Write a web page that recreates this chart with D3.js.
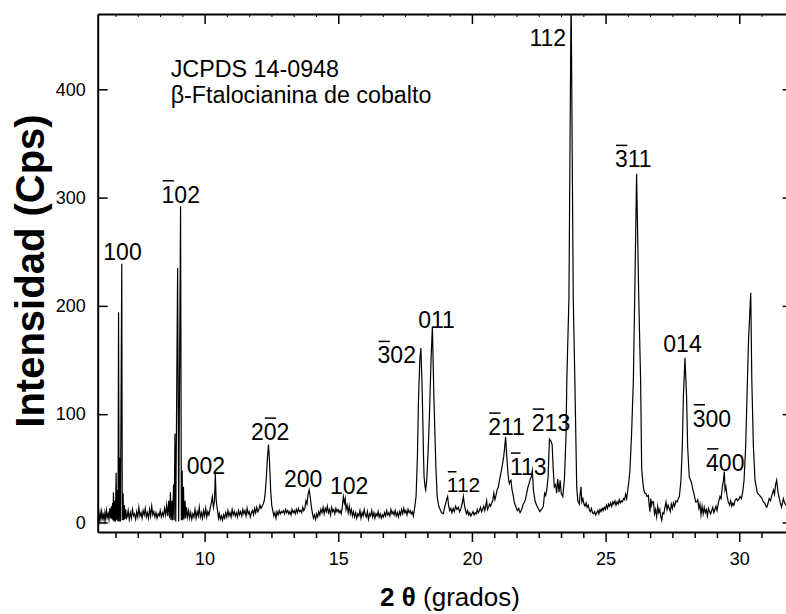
<!DOCTYPE html>
<html><head><meta charset="utf-8">
<script src="https://cdn.jsdelivr.net/npm/d3@7"></script>
<style>body{margin:0;background:#fff} text{font-family:"Liberation Sans",Arial,sans-serif;fill:#000}</style>
</head><body><svg id="c" width="786" height="614"></svg>
<script>
const xDomain = [6, 32];
const yDomain = [-8.8, 469.5];
const xTicks = [10, 15, 20, 25, 30];
const yTicks = [0, 100, 200, 300, 400];
const xTitleBold = "2 θ";
const xTitleRest = " (grados)";
const yTitle = "Intensidad (Cps)";
const noteLines = ["JCPDS 14-0948", "β-Ftalocianina de cobalto"];

// [2θ, intensity]
const pattern = [
[6.00,3],[6.03,8],[6.06,2],[6.09,9],[6.12,3],[6.15,10],[6.18,4],[6.21,7],[6.24,2],[6.27,9],[6.30,3],[6.33,11],[6.36,5],[6.39,8],[6.42,3],[6.45,13],[6.48,4],[6.51,15],[6.53,3],[6.555,18],
[6.57,2],[6.59,28],[6.61,1],[6.64,20],[6.66,1],[6.69,46],[6.71,2],[6.74,30],[6.76,1],[6.78,194],[6.80,1],[6.83,60],[6.85,1],[6.90,239],[6.92,2],[6.95,27],[6.97,2],[7.00,16],[7.02,3],[7.05,12],[7.08,4],
[7.10,5],[7.14,11],[7.18,3],[7.22,9],[7.26,4],[7.30,12],[7.34,6],[7.38,8],[7.42,3],[7.46,10],[7.50,5],[7.54,14],[7.58,6],[7.62,9],[7.66,4],[7.70,11],[7.74,7],[7.78,13],[7.82,5],[7.86,9],[7.90,4],[7.94,12],[7.98,6],[8.02,15],[8.06,7],[8.10,10],[8.14,5],[8.18,9],[8.22,4],[8.26,8],[8.30,6],[8.34,11],[8.38,5],[8.42,9],[8.46,6],[8.50,13],[8.54,7],[8.58,16],[8.62,6],[8.66,20],[8.69,4],
[8.72,28],[8.745,2],[8.78,20],[8.80,2],[8.84,35],[8.86,2],[8.89,82],[8.92,1],[8.99,235],[9.03,1],[9.10,292],[9.13,2],[9.16,48],[9.18,2],[9.21,33],[9.23,3],[9.27,20],[9.29,4],[9.32,14],
[9.36,5],[9.40,11],[9.44,4],[9.48,9],[9.52,3],[9.56,8],[9.60,5],[9.64,12],[9.68,4],[9.72,10],[9.76,6],[9.80,14],[9.84,5],[9.88,9],[9.92,4],[9.96,11],[10.00,6],[10.04,13],[10.08,5],[10.12,10],[10.16,7],[10.20,12],
[10.25,18],[10.29,24],[10.33,14],[10.37,20],[10.40,45],[10.43,22],[10.46,15],[10.49,10],[10.52,4],
[10.55,8],[10.59,3],[10.63,6],[10.67,2],[10.71,7],[10.75,4],[10.79,9],[10.83,5],[10.87,11],[10.91,6],[10.95,9],[10.99,5],[11.03,12],[11.07,7],[11.11,10],[11.15,6],[11.19,9],[11.23,5],[11.27,11],[11.31,7],[11.35,10],[11.39,6],[11.43,12],[11.47,8],[11.51,11],[11.55,6],[11.59,13],[11.63,8],[11.67,10],[11.71,5],[11.75,9],[11.79,11],[11.83,7],[11.87,13],[11.91,9],[11.95,14],[11.99,10],[12.03,12],[12.07,16],[12.11,13],[12.15,15],[12.19,17],
[12.23,20],[12.27,28],[12.31,42],[12.35,60],[12.39,72],[12.43,55],[12.47,30],[12.51,16],[12.55,11],[12.59,6],
[12.63,9],[12.67,4],[12.71,10],[12.75,7],[12.79,11],[12.83,8],[12.87,10],[12.91,9],[12.95,11],[12.99,8],[13.03,12],[13.07,9],[13.11,11],[13.15,8],[13.19,10],[13.23,7],[13.27,12],[13.31,9],[13.35,11],[13.39,8],[13.43,12],[13.47,9],[13.51,13],[13.55,10],[13.59,11],[13.63,9],[13.67,14],[13.71,11],[13.75,13],
[13.79,20],[13.83,17],[13.87,26],[13.91,30],[13.95,24],[13.99,15],[14.03,9],[14.07,4],[14.11,7],[14.15,3],[14.19,8],[14.23,5],[14.27,10],[14.31,7],[14.35,12],[14.39,9],[14.43,14],[14.47,8],[14.51,13],[14.55,10],[14.59,15],[14.63,9],[14.67,12],[14.71,7],[14.75,14],[14.79,10],[14.83,12],[14.87,8],[14.91,13],[14.95,10],[14.99,12],[15.03,9],[15.07,11],[15.11,8],[15.15,14],
[15.19,24],[15.23,18],[15.26,22],[15.29,12],[15.33,16],[15.37,9],[15.41,15],[15.45,8],[15.49,12],[15.53,6],[15.57,10],[15.61,5],[15.65,9],[15.69,4],[15.73,8],[15.77,6],[15.81,11],[15.85,4],[15.89,9],[15.93,6],[15.97,12],[16.01,7],[16.05,5],[16.09,10],[16.13,3],[16.17,8],[16.21,6],[16.25,11],[16.29,5],[16.33,9],[16.37,4],[16.41,8],[16.45,6],[16.49,10],[16.53,5],[16.57,8],[16.61,4],[16.65,7],[16.69,5],[16.73,9],[16.77,6],[16.81,11],[16.85,7],[16.89,9],[16.93,6],[16.97,12],[17.01,8],[17.05,10],[17.09,7],[17.13,11],[17.17,6],[17.21,9],[17.25,5],[17.29,10],[17.33,7],[17.37,12],[17.41,8],[17.45,13],[17.49,9],[17.53,11],[17.57,7],[17.61,12],[17.65,9],[17.69,11],[17.73,8],[17.77,10],[17.81,6],
[17.86,14],[17.91,24],[17.96,60],[18.00,113],[18.05,150],[18.09,161],[18.13,130],[18.16,98],[18.19,60],[18.21,42],[18.25,32],[18.27,30],[18.31,39],[18.36,65],[18.41,98],[18.47,150],[18.52,181],[18.58,113],[18.65,52],[18.70,24],[18.76,15],[18.81,12],[18.87,9],[18.93,8],[18.98,14],
[19.06,22],[19.09,24],[19.13,15],[19.17,11],[19.21,13],[19.25,9],[19.30,13],[19.34,10],[19.39,15],[19.44,12],[19.49,14],[19.54,10],[19.59,13],[19.64,18],[19.68,24],[19.72,16],[19.76,11],[19.80,8],[19.84,11],[19.88,7],[19.92,9],[19.96,6],[20.00,8],[20.04,10],[20.08,7],[20.12,9],[20.16,8],[20.20,12],[20.24,9],[20.28,11],[20.32,14],[20.36,10],[20.40,12],[20.44,15],[20.48,11],[20.52,16],[20.55,20],[20.58,12],[20.62,14],[20.66,17],[20.70,15],[20.74,18],[20.78,20],[20.82,27],[20.86,21],[20.90,25],[20.94,30],[20.99,33],[21.03,39],[21.07,44],[21.11,49],[21.15,55],[21.19,61],[21.22,68],[21.26,79],[21.30,62],[21.34,48],[21.37,40],[21.40,36],[21.43,38],[21.46,39],[21.50,30],[21.55,24],[21.59,18],[21.65,14],[21.70,11],[21.75,13],[21.80,9],[21.86,12],[21.92,17],[21.99,20],[22.05,27],[22.10,33],[22.14,36],[22.18,40],[22.22,42],[22.26,48],[22.30,30],[22.36,20],[22.42,16],[22.48,13],[22.54,10],[22.60,12],[22.67,15],[22.72,27],[22.76,25],[22.80,30],[22.85,42],[22.90,77],[22.96,75],[23.00,72],[23.04,50],[23.08,33],[23.13,35],[23.17,27],[23.21,40],[23.26,28],[23.30,39],[23.34,27],[23.40,24],[23.46,40],[23.52,80],[23.55,132],[23.63,208],[23.71,490],[23.79,208],[23.85,132],[23.92,33],[23.96,20],
[24.02,17],[24.05,27],[24.08,33],[24.11,19],[24.15,22],[24.19,17],[24.23,15],[24.27,18],[24.31,14],[24.35,16],[24.39,12],[24.43,10],[24.47,13],[24.51,9],[24.55,8],[24.59,10],[24.63,7],[24.67,9],[24.71,11],[24.75,8],[24.79,12],[24.83,10],[24.87,13],[24.91,11],[24.95,14],[24.99,12],[25.03,16],[25.07,13],[25.11,17],[25.15,15],[25.19,18],[25.23,15],[25.27,19],[25.31,17],[25.35,20],[25.39,16],[25.43,19],[25.47,17],[25.51,21],[25.55,18],[25.59,20],[25.63,19],[25.67,22],[25.71,21],[25.75,26],[25.79,22],
[25.83,30],[25.88,40],[25.91,48],[25.97,80],[26.04,132],[26.09,208],[26.16,322],[26.24,208],[26.31,132],[26.35,50],[26.39,38],[26.43,30],[26.47,27],[26.51,27],[26.55,24],[26.60,25],[26.63,16],[26.66,10],[26.69,22],[26.72,16],[26.75,19],[26.79,19],[26.83,8],[26.87,12],[26.91,5],[26.95,15],[26.99,9],[27.03,12],[27.06,6],[27.10,2],[27.14,9],[27.18,8],[27.22,14],[27.26,19],[27.30,12],[27.34,16],[27.38,13],[27.42,10],[27.46,17],[27.50,13],[27.54,18],[27.58,15],[27.63,20],[27.68,19],[27.72,22],[27.76,24],
[27.82,39],[27.87,70],[27.91,116],[27.97,152],[28.03,116],[28.07,70],[28.13,42],[28.18,39],[28.22,36],[28.27,30],[28.32,25],[28.37,19],[28.41,19],[28.45,21],[28.49,13],[28.53,17],[28.57,7],[28.61,15],[28.65,8],[28.69,14],[28.73,9],[28.77,12],[28.81,6],[28.85,13],[28.89,10],[28.93,8],[28.97,11],[29.01,14],[29.05,9],[29.09,12],[29.13,15],[29.17,11],[29.22,18],[29.28,24],[29.32,22],[29.37,33],[29.41,39],[29.44,47],[29.47,30],[29.50,33],[29.54,25],[29.59,19],[29.64,16],[29.68,20],[29.72,15],[29.76,18],[29.80,16],[29.85,21],[29.90,22],[29.94,20],[29.98,21],[30.03,24],[30.08,22],[30.13,28],
[30.18,39],[30.24,70],[30.29,116],[30.35,170],[30.43,212],[30.47,132],[30.53,70],[30.59,39],[30.68,27],[30.73,26],[30.79,24],[30.85,22],[30.90,19],[30.95,18],[31.00,15],[31.03,14],[31.07,17],[31.12,22],[31.17,20],[31.22,25],[31.28,30],[31.32,26],[31.36,35],[31.40,39],[31.45,28],[31.50,22],[31.53,19],[31.58,14],[31.62,18],[31.65,22],[31.70,18],[31.75,16],[31.80,20],[31.86,17],[31.92,19],[32.00,16]
];

// Miller index labels: bar = index of digit carrying an overbar (-1 none); x,y = text start / baseline in data units
const peakLabels = [
  {text:"100", bar:-1, x:6.21,  y:242.4},
  {text:"102", bar:0,  x:8.39,  y:295.3},
  {text:"002", bar:-1, x:9.33,  y:44.8},
  {text:"202", bar:1,  x:11.735,y:76.2},
  {text:"200", bar:-1, x:12.97, y:32.5},
  {text:"102", bar:-1, x:14.69, y:26},
  {text:"302", bar:0,  x:16.47, y:147},
  {text:"011", bar:-1, x:17.99, y:179.3},
  {text:"112", bar:0,  x:19.06, y:28.4, small:true},
  {text:"211", bar:0,  x:20.61, y:80.8},
  {text:"113", bar:0,  x:21.42, y:43.9},
  {text:"213", bar:0,  x:22.24, y:84.5},
  {text:"112", bar:-1, x:22.15, y:440},
  {text:"311", bar:0,  x:25.35, y:328},
  {text:"014", bar:-1, x:27.16, y:157.7},
  {text:"300", bar:0,  x:28.26, y:88.5},
  {text:"400", bar:0,  x:28.76, y:47.8}
];

const W = 786, H = 614;
const plot = {left: 97.7, right: 792.7, top: 14, bottom: 532};
const svg = d3.select("#c");
const x = d3.scaleLinear().domain(xDomain).range([plot.left, plot.right]);
const y = d3.scaleLinear().domain(yDomain).range([plot.bottom, plot.top]);

svg.append("defs").append("clipPath").attr("id","clip")
  .append("rect").attr("x",plot.left).attr("y",plot.top)
  .attr("width",plot.right-plot.left).attr("height",plot.bottom-plot.top);

// data line
const line = d3.line().x(d => x(d[0])).y(d => y(d[1]));
svg.append("path").datum(pattern).attr("d", line)
  .attr("clip-path","url(#clip)")
  .attr("fill","none").attr("stroke","#000").attr("stroke-width",1.2)
  .attr("stroke-linejoin","miter").attr("stroke-miterlimit",10);

// minor ticks (5 per major interval)
const minorX = d3.range(0, 32).map(i => 5 + i*5/6).filter(v => v > xDomain[0] && v < xDomain[1] && Math.abs(v - Math.round(v/5)*5) > 1e-6);

function styleAxis(g, fs){
  g.select(".domain").attr("stroke","#000").attr("stroke-width",2);
  g.selectAll(".tick line").attr("stroke","#000").attr("stroke-width",1.5);
  g.selectAll(".tick text").attr("font-size",fs).attr("font-family","Liberation Sans, Arial, sans-serif").attr("fill","#000");
}

// bottom
const gb = svg.append("g").attr("transform",`translate(0,${plot.bottom})`)
  .call(d3.axisBottom(x).tickValues(xTicks).tickSize(10).tickPadding(10).tickSizeOuter(0));
styleAxis(gb, 18);
svg.append("g").attr("transform",`translate(0,${plot.bottom})`)
  .call(d3.axisBottom(x).tickValues(minorX).tickSize(6).tickFormat("").tickSizeOuter(0))
  .call(g => { g.select(".domain").remove(); g.selectAll("line").attr("stroke","#000").attr("stroke-width",1.5); });

// top
const gt = svg.append("g").attr("transform",`translate(0,${plot.top})`)
  .call(d3.axisTop(x).tickValues(xTicks).tickSize(-10).tickFormat("").tickSizeOuter(0));
styleAxis(gt, 18);
svg.append("g").attr("transform",`translate(0,${plot.top})`)
  .call(d3.axisTop(x).tickValues(minorX).tickSize(-3).tickFormat("").tickSizeOuter(0))
  .call(g => { g.select(".domain").remove(); g.selectAll("line").attr("stroke","#000").attr("stroke-width",1); });

// left
const gl = svg.append("g").attr("transform",`translate(${plot.left},0)`)
  .call(d3.axisLeft(y).tickValues(yTicks).tickSize(-10).tickPadding(12).tickSizeOuter(0));
styleAxis(gl, 18);

// right
const gr = svg.append("g").attr("transform",`translate(${plot.right},0)`)
  .call(d3.axisRight(y).tickValues(yTicks).tickSize(-10).tickFormat("").tickSizeOuter(0));
styleAxis(gr, 18);

// axis titles
const xt = svg.append("text").attr("x", 450).attr("y", 606)
  .attr("text-anchor","middle").attr("font-size",26);
xt.append("tspan").attr("font-weight","bold").text(xTitleBold);
xt.append("tspan").text(xTitleRest);

svg.append("text").attr("transform",`translate(44,${(plot.top+plot.bottom)/2 - 2}) rotate(-90)`)
  .attr("text-anchor","middle").attr("font-size",40).attr("font-weight","bold").text(yTitle);

// note
svg.append("g").selectAll("text").data(noteLines).join("text")
  .attr("x", x(8.73)).attr("y", (d,i) => i === 0 ? y(411.6) : y(387.6))
  .attr("font-size",23.3).text(d => d);

// peak labels
const lg = svg.append("g");
peakLabels.forEach(p => {
  const fs = p.small ? 21 : 23;
  const t = lg.append("text").attr("x", x(p.x)).attr("y", y(p.y)).attr("font-size", fs).text(p.text);
  if (p.bar >= 0) {
    const n = t.node();
    const s = n.getStartPositionOfChar(p.bar).x, e = n.getEndPositionOfChar(p.bar).x;
    lg.append("line").attr("x1", s + 1).attr("x2", e - 0.5)
      .attr("y1", y(p.y) - fs*0.95).attr("y2", y(p.y) - fs*0.95)
      .attr("stroke","#000").attr("stroke-width",1.5);
  }
});
</script></body></html>
